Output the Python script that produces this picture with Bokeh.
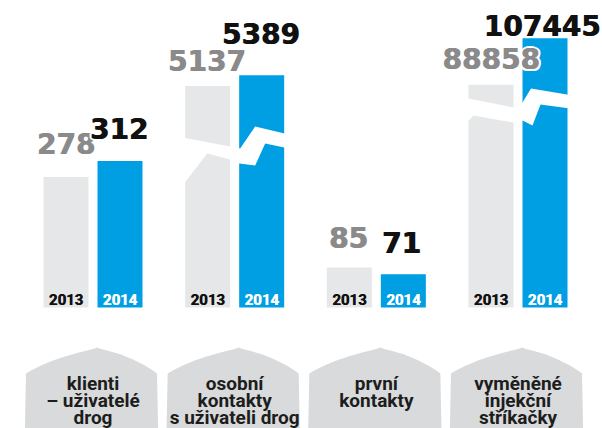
from bokeh.plotting import figure
from bokeh.models import Range1d, ColumnDataSource
from bokeh.core.properties import value
from bokeh.embed import file_html
from bokeh.resources import INLINE

# ---- data ----
categories = ["klienti\n– uživatelé\ndrog",
              "osobní\nkontakty\ns uživateli drog",
              "první\nkontakty",
              "vyměněné\ninjekční\nstříkačky"]
years = ["2013", "2014"]
values_2013 = [278, 5137, 85, 88858]
values_2014 = [312, 5389, 71, 107445]
broken = [False, True, False, True]

# ---- display styling (per-group scale: units per pixel of bar height) ----
units_per_px = [2.13, 23.2, 2.13, 399.0]
W, H = 602, 428
PX = 141.67                       # pixels per group unit
X0 = -92.5 / PX
X1 = X0 + W / PX
BASE = 307                        # baseline row in pixels from top
BAR_OFF = 27 / PX
BAR_W = 45 / PX

GREY_BAR = "#e6e7e8"
BLUE = "#009fe3"
GREY_TXT = "#8a8a8b"
BLACK_TXT = "#111111"
SHAPE = "#d9dadb"
CAT_TXT = "#1d1d1b"

label_gap_2013 = [33, 26, 30, 26]
label_gap_2014 = [33, 42, 32, 13]
label_nudge_2013 = [0, -1, -1, 0]
label_nudge_2014 = [-1, -1, -2, -3]

# break shapes (dx px from group centre, dy px from break level)
break_level = {1: 161, 3: 200}
break_shape = {
    1: [(-52, 9), (-4.5, 0), (5.5, -2), (20.5, 20), (52, 12.5),
        (52, -1.5), (30.5, 3), (20.5, -19), (4.5, -17), (-4.5, -13),
        (-27.5, -7), (-52, -39)],
    3: [(-52, 9.5), (-4.5, 0), (4.5, 5), (13, 19), (52, 12.5),
        (52, -1), (22.5, 3), (14.5, -18), (4.5, -13), (-4.5, -15),
        (-44.5, -8), (-52, -16)],
}

p = figure(width=W, height=H, x_range=Range1d(X0, X1), y_range=Range1d(BASE - H, BASE),
           output_backend="svg", toolbar_location=None, x_axis_type=None, y_axis_type=None,
           min_border=0, min_border_left=0, min_border_right=0, min_border_top=0, min_border_bottom=0)
p.grid.visible = False
p.outline_line_color = None
p.background_fill_color = "white"
p.border_fill_color = "white"

n = len(categories)
idx = list(range(n))

# ---- category background shapes ----
profile = [(-67, 0), (-62, 3), (-52, 8), (-40, 13), (-28, 17), (-16, 20.5), (-6, 23), (0, 24.5),
           (4, 26), (8, 24.5), (16, 22.5), (28, 19), (40, 14), (52, 8), (60, 3), (64, 0)]
CORNER = -66
sxs, sys_ = [], []
for i in idx:
    xs = [i + (-68.5) / PX] + [i + dx / PX for dx, _ in profile] + [i + 65.5 / PX]
    ys = [-140] + [CORNER + dy for _, dy in profile] + [-140]
    sxs.append(xs)
    sys_.append(ys)
p.patches(xs=sxs, ys=sys_, fill_color=SHAPE, line_color=None)

# ---- bars ----
top13 = [v / s for v, s in zip(values_2013, units_per_px)]
top14 = [v / s for v, s in zip(values_2014, units_per_px)]
p.vbar(x=[i - BAR_OFF for i in idx], top=top13, bottom=0, width=BAR_W,
       fill_color=GREY_BAR, line_color=None)
p.vbar(x=[i + BAR_OFF for i in idx], top=top14, bottom=0, width=BAR_W,
       fill_color=BLUE, line_color=None)

# ---- axis breaks ----
bxs, bys = [], []
for i in idx:
    if broken[i]:
        bxs.append([i + dx / PX for dx, _ in break_shape[i]])
        bys.append([break_level[i] + dy for _, dy in break_shape[i]])
p.patches(xs=bxs, ys=bys, fill_color="white", line_color=None)

# ---- year labels inside bars ----
for ox in (0, 0.5):
    p.text(x=[i - BAR_OFF for i in idx], y=[8] * n, text=[years[0]] * n, x_offset=ox,
           text_font=value("Roboto"), text_font_style="bold", text_font_size="15px",
           text_color=BLACK_TXT, text_align="center", text_baseline="alphabetic")
    p.text(x=[i + BAR_OFF for i in idx], y=[8] * n, text=[years[1]] * n, x_offset=ox,
           text_font=value("Roboto"), text_font_style="bold", text_font_size="15px",
           text_color="white", text_align="center", text_baseline="alphabetic")

# ---- value labels ----
def value_labels(xc, tops, vals, gaps, color):
    src = ColumnDataSource(dict(x=xc, y=[t + g for t, g in zip(tops, gaps)],
                                t=[str(v) for v in vals]))
    for ox, oy in [(-2, 0), (2.8, 0), (0, -2), (0, 2), (-1.5, -1.5), (2.3, 1.5), (-1.5, 1.5), (2.3, -1.5)]:
        p.text(x="x", y="y", text="t", source=src, x_offset=ox, y_offset=oy,
               text_font=value("DejaVu Sans"), text_font_style="bold", text_font_size="28px",
               text_color="white", text_align="center", text_baseline="alphabetic")
    for ox in (0, 0.8):
        p.text(x="x", y="y", text="t", source=src, x_offset=ox,
               text_font=value("DejaVu Sans"), text_font_style="bold", text_font_size="28px",
               text_color=color, text_align="center", text_baseline="alphabetic")

value_labels([i - BAR_OFF + nd / PX for i, nd in zip(idx, label_nudge_2013)], top13, values_2013,
             label_gap_2013, GREY_TXT)
value_labels([i + BAR_OFF + nd / PX for i, nd in zip(idx, label_nudge_2014)], top14, values_2014,
             label_gap_2014, BLACK_TXT)

# ---- category labels ----
LINE_Y = [-76, -93, -109.5]
cx, cy, ct = [], [], []
for i, cat in enumerate(categories):
    for j, line in enumerate(cat.split("\n")):
        cx.append(i)
        cy.append(LINE_Y[j])
        ct.append(line)
p.text(x=cx, y=cy, text=ct, text_font=value("Roboto"), text_font_style="bold",
       text_font_size="19px", text_color=CAT_TXT, text_align="center", text_baseline="alphabetic")

open("out.html", "w").write(file_html(p, INLINE))
